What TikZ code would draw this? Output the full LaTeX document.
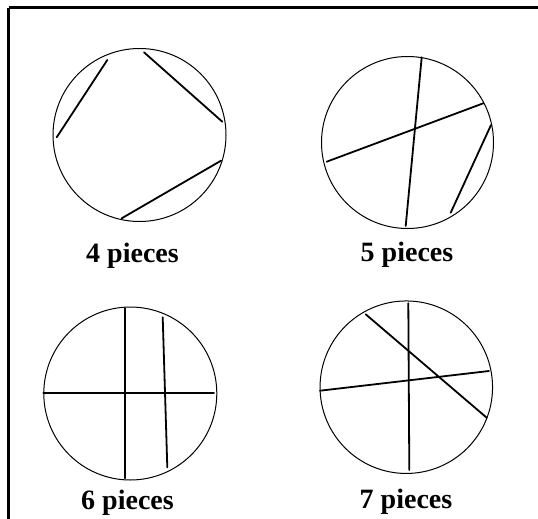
\documentclass[tikz,border=0pt]{standalone}
\usepackage{fontspec}
\setmainfont{Liberation Serif}
\begin{document}
\begin{tikzpicture}[x=1bp,y=-1bp,
  disc/.style={draw, line width=1bp, circle, minimum size=#1, inner sep=0pt},
  chord/.style={line width=1.8bp, line cap=round},
  lab/.style={anchor=base, inner sep=0pt, font=\fontsize{28bp}{30bp}\selectfont\bfseries}]
\useasboundingbox (0,0) rectangle (538,519);
% frame
\draw[line width=3bp] (8.5,8) -- (538,8);
\draw[line width=3bp] (8.5,8) -- (8.5,519);
% circle 1
\node[disc=173bp] (c1) at (139.5,135) {};
\draw[chord] (107.3,60) -- (56.7,137.3);
\draw[chord] (144,52.3) -- (222.3,121.7);
\draw[chord] (221,160.7) -- (121.7,218.3);
\node[lab] (l1) at (132.5,262) {4 pieces};
% circle 2
\node[disc=172bp] (c2) at (407.5,142.5) {};
\draw[chord] (421.7,57.3) -- (405.7,226);
\draw[chord] (326.7,161.7) -- (483.3,103.3);
\draw[chord] (491,125) -- (450.7,212.7);
\node[lab] (l2) at (407,261.5) {5 pieces};
% circle 3
\node[disc=173bp] (c3) at (130.3,393.5) {};
\draw[chord] (43.3,393.3) -- (214,393.3);
\draw[chord] (124.7,308.3) -- (124.7,478.3);
\draw[chord] (162.7,317.3) -- (167.3,467.3);
\node[lab] (l3) at (127.5,509) {6 pieces};
% circle 4
\node[disc=172.5bp] (c4) at (406.3,387.2) {};
\draw[chord] (408.3,303.3) -- (409.3,470);
\draw[chord] (320,390.7) -- (489,371);
\draw[chord] (365.7,314.3) -- (486.7,417.7);
\node[lab] (l4) at (406,508.5) {7 pieces};
\end{tikzpicture}
\end{document}
